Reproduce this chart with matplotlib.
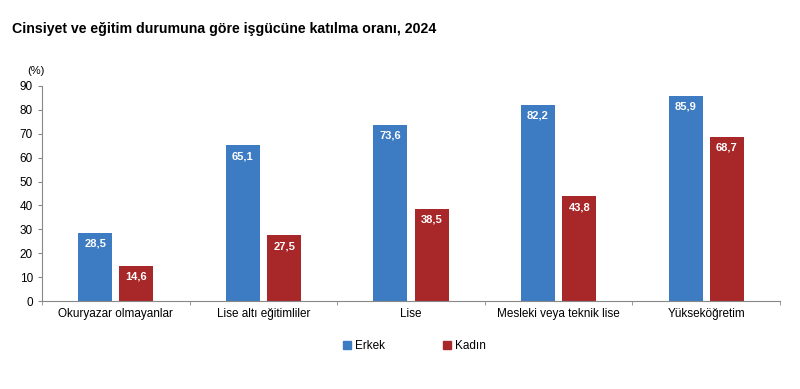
import numpy as np
import matplotlib.pyplot as plt
from matplotlib.patches import Patch

plt.rcParams["font.family"] = ["Liberation Sans", "DejaVu Sans"]

categories = ["Okuryazar olmayanlar", "Lise altı eğitimliler", "Lise",
              "Mesleki veya teknik lise", "Yükseköğretim"]
erkek = [28.5, 65.1, 73.6, 82.2, 85.9]
kadin = [14.6, 27.5, 38.5, 43.8, 68.7]
yticks = list(range(0, 100, 10))

blue = "#3d7cc3"
red = "#a8282a"

fig = plt.figure(figsize=(8, 3.89), dpi=100)
ax = fig.add_axes([0.0525, 0.226, 0.9225, 0.553])

x = np.arange(len(categories))
w = 0.23
off = 0.14
b1 = ax.bar(x - off, erkek, w, color=blue)
b2 = ax.bar(x + off, kadin, w, color=red)

for bars, vals in ((b1, erkek), (b2, kadin)):
    for r, v in zip(bars, vals):
        ax.text(r.get_x() + r.get_width() / 2, v - 2.4, f"{v:.1f}".replace(".", ","),
                ha="center", va="top", color="white", fontsize=8, fontweight="bold")

ax.set_xlim(-0.5, len(categories) - 0.5)
ax.set_ylim(0, 90)
ax.set_yticks(yticks)
ax.tick_params(axis="y", labelsize=8.5, length=3, color="#888888")
ax.set_xticks(x)
ax.set_xticklabels(categories, fontsize=8.5)
ax.tick_params(axis="x", length=0, pad=5)
ax.set_xticks(np.arange(len(categories) + 1) - 0.5, minor=True)
ax.tick_params(axis="x", which="minor", length=3, color="#888888")
for s in ["top", "right"]:
    ax.spines[s].set_visible(False)
ax.spines["left"].set_color("#888888")
ax.spines["bottom"].set_color("#888888")

fig.text(0.015, 0.925, "Cinsiyet ve eğitim durumuna göre işgücüne katılma oranı, 2024",
         fontsize=10.2, fontweight="bold", ha="left", va="center")
fig.text(0.045, 0.818, "(%)", fontsize=8, ha="center", va="center")

handles = [Patch(color=blue, label="Erkek"), Patch(color=red, label="Kadın")]
fig.legend(handles=handles, loc="center", bbox_to_anchor=(0.518, 0.11), ncol=2,
           frameon=False, fontsize=8.5, handlelength=0.7, handleheight=0.7,
           handletextpad=0.3, columnspacing=4.9)

fig.savefig("out.png", dpi=100, facecolor="white")
